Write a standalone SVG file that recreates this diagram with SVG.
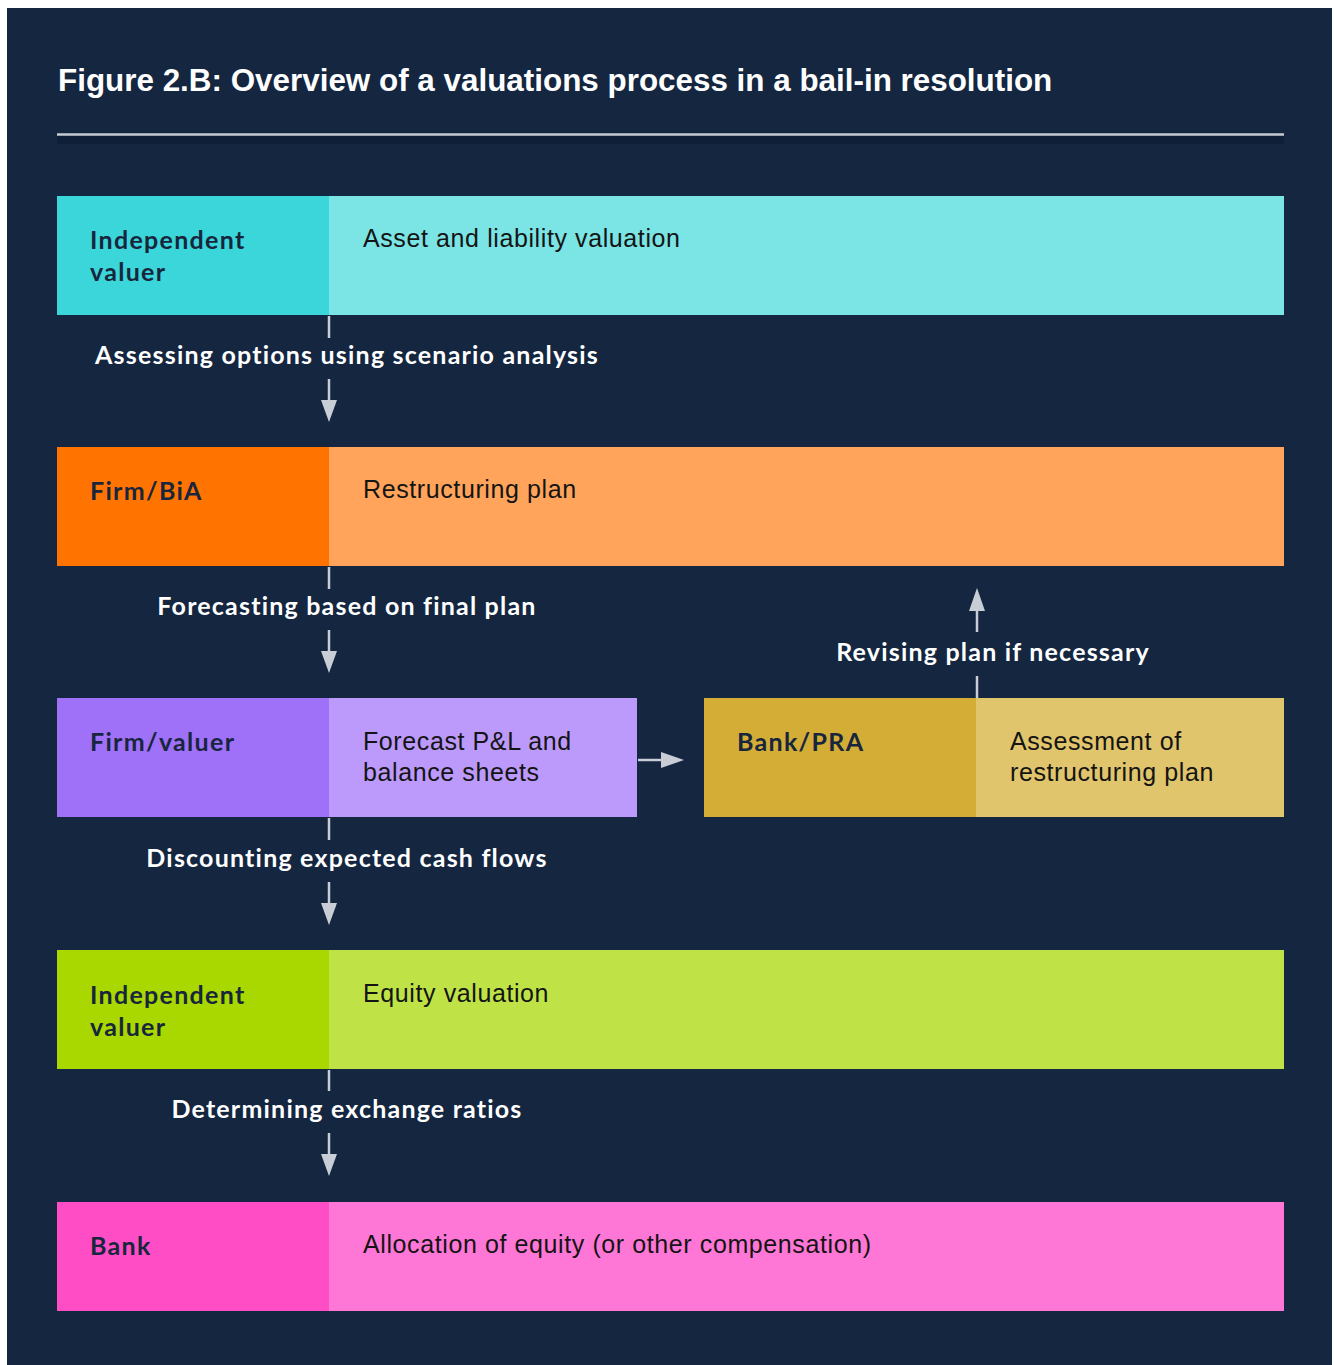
<svg xmlns="http://www.w3.org/2000/svg" width="1334" height="1365" viewBox="0 0 1334 1365">
  <defs>
    <style>
      .title { font-family: "Liberation Sans", Arial, sans-serif; font-weight: bold; font-size: 31.4px; fill: #ffffff; }
      .role { font-family: Lato, "Noto Sans", sans-serif; font-weight: bold; font-size: 25px; letter-spacing: 1.3px; fill: #17263d; }
      .task { font-family: "Liberation Sans", Arial, sans-serif; font-size: 25px; letter-spacing: 0.6px; fill: #141414; }
      .step { font-family: Lato, "Noto Sans", sans-serif; font-weight: bold; font-size: 25px; letter-spacing: 1.2px; fill: #ffffff; text-anchor: middle; }
      .conn { stroke: #c9ced6; stroke-width: 2.5; fill: none; }
      .head { fill: #c9ced6; }
    </style>
  </defs>

  <!-- page background -->
  <rect x="0" y="0" width="1334" height="1365" fill="#ffffff"/>
  <rect x="7" y="8" width="1325" height="1357" fill="#142640"/>

  <!-- heading and rule -->
  <text class="title" x="58" y="91">Figure 2.B: Overview of a valuations process in a bail-in resolution</text>
  <rect x="57" y="136" width="1227" height="8" fill="#0f1f37"/>
  <line x1="57" y1="134.5" x2="1284" y2="134.5" stroke="#c6cbd1" stroke-width="2.5"/>

  <!-- connectors -->
  <g id="connectors">
    <line class="conn" x1="329" y1="316" x2="329" y2="338"/>
    <line class="conn" x1="329" y1="379" x2="329" y2="400"/>
    <path class="head" d="M321,400 L337,400 L329,422 Z"/>

    <line class="conn" x1="329" y1="567" x2="329" y2="589"/>
    <line class="conn" x1="329" y1="630" x2="329" y2="652"/>
    <path class="head" d="M321,651 L337,651 L329,673 Z"/>

    <line class="conn" x1="329" y1="818" x2="329" y2="840"/>
    <line class="conn" x1="329" y1="882" x2="329" y2="903"/>
    <path class="head" d="M321,903 L337,903 L329,925 Z"/>

    <line class="conn" x1="329" y1="1070" x2="329" y2="1091"/>
    <line class="conn" x1="329" y1="1133" x2="329" y2="1154"/>
    <path class="head" d="M321,1154 L337,1154 L329,1176 Z"/>

    <line class="conn" x1="638" y1="760" x2="662" y2="760"/>
    <path class="head" d="M661,752 L684,760 L661,768 Z"/>

    <line class="conn" x1="977" y1="698" x2="977" y2="676"/>
    <line class="conn" x1="977" y1="632" x2="977" y2="610"/>
    <path class="head" d="M969,611 L985,611 L977,588 Z"/>

    <text class="step" x="347" y="364">Assessing options using scenario analysis</text>
    <text class="step" x="347" y="615">Forecasting based on final plan</text>
    <text class="step" x="993" y="661">Revising plan if necessary</text>
    <text class="step" x="347" y="867">Discounting expected cash flows</text>
    <text class="step" x="347" y="1118">Determining exchange ratios</text>
  </g>

  <!-- row 1 -->
  <g id="asset-valuation">
    <rect x="57" y="196" width="272" height="119" fill="#3bd6d9"/>
    <rect x="329" y="196" width="955" height="119" fill="#7be4e4"/>
    <text class="role" x="90" y="249">Independent</text>
    <text class="role" x="90" y="281">valuer</text>
    <text class="task" x="363" y="247">Asset and liability valuation</text>
  </g>

  <!-- row 2 -->
  <g id="restructuring-plan">
    <rect x="57" y="447" width="272" height="119" fill="#ff7300"/>
    <rect x="329" y="447" width="955" height="119" fill="#ffa45a"/>
    <text class="role" x="90" y="500">Firm/BiA</text>
    <text class="task" x="363" y="498">Restructuring plan</text>
  </g>

  <!-- row 3 -->
  <g id="forecast">
    <rect x="57" y="698" width="272" height="119" fill="#9f70f8"/>
    <rect x="329" y="698" width="308" height="119" fill="#bc9afc"/>
    <text class="role" x="90" y="751">Firm/valuer</text>
    <text class="task" x="363" y="750">Forecast P&amp;L and</text>
    <text class="task" x="363" y="781">balance sheets</text>
  </g>

  <g id="assessment">
    <rect x="704" y="698" width="272" height="119" fill="#d4ad36"/>
    <rect x="976" y="698" width="308" height="119" fill="#e1c56c"/>
    <text class="role" x="737" y="751">Bank/PRA</text>
    <text class="task" x="1010" y="750">Assessment of</text>
    <text class="task" x="1010" y="781">restructuring plan</text>
  </g>

  <!-- row 4 -->
  <g id="equity-valuation">
    <rect x="57" y="950" width="272" height="119" fill="#a8d800"/>
    <rect x="329" y="950" width="955" height="119" fill="#bfe346"/>
    <text class="role" x="90" y="1004">Independent</text>
    <text class="role" x="90" y="1036">valuer</text>
    <text class="task" x="363" y="1002">Equity valuation</text>
  </g>

  <!-- row 5 -->
  <g id="allocation">
    <rect x="57" y="1202" width="272" height="109" fill="#ff4dc6"/>
    <rect x="329" y="1202" width="955" height="109" fill="#ff77d6"/>
    <text class="role" x="90" y="1255">Bank</text>
    <text class="task" x="363" y="1253">Allocation of equity (or other compensation)</text>
  </g>
</svg>
